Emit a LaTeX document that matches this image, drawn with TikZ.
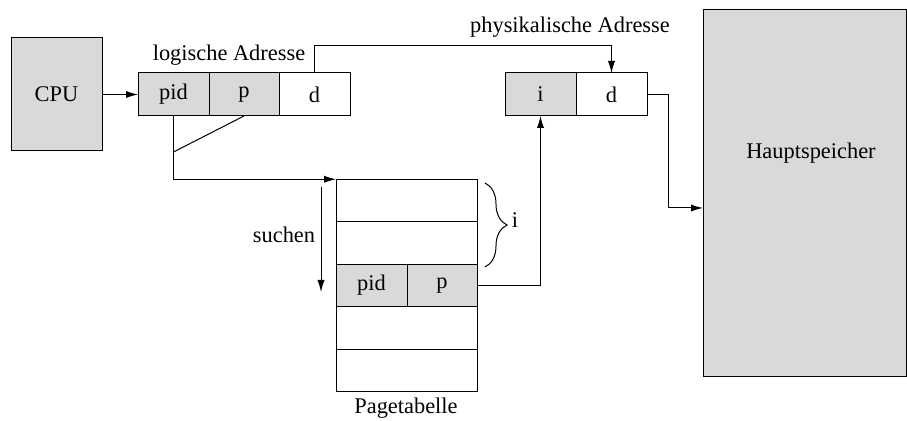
\documentclass[tikz,border=0pt]{standalone}
\usepackage{fontspec}
\setmainfont{Liberation Serif}
\usetikzlibrary{arrows.meta,decorations.pathreplacing}
\definecolor{boxgray}{gray}{0.85}
\begin{document}
\begin{tikzpicture}[x=0.5pt,y=-0.5pt,
  font=\fontsize{11.2}{13}\selectfont,
  every node/.style={inner sep=0pt,outer sep=0pt},
  cell/.style={draw,line width=0.5pt,minimum width=35.5pt,minimum height=21.5pt},
  graycell/.style={cell,fill=boxgray},
  tcell/.style={graycell,minimum height=21.25pt},
  row/.style={draw,line width=0.5pt,minimum width=70.5pt,minimum height=21.25pt},
  line/.style={line width=0.5pt},
  arr/.style={line width=0.5pt,-{Latex[length=6pt,width=3.6pt]}},
  lbl/.style={anchor=base}]
\useasboundingbox (0,0) rectangle (907,421);

% CPU and main memory
\node[draw,line width=0.5pt,fill=boxgray,minimum width=45.5pt,minimum height=56.5pt] (cpu) at (56.5,94.5) {CPU};
\node[draw,line width=0.5pt,fill=boxgray,minimum width=101.5pt,minimum height=183.5pt] (mem) at (804.5,193.5) {};
\node[lbl] (memtxt) at (811,159) {Hauptspeicher};

% logical address
\node[graycell] (lpid) at (173.5,94.5) {pid};
\node[graycell,minimum width=35pt] (lp) at (244,94.5) {p};
\node[cell] (ld) at (314.5,94.5) {d};
\node[lbl] (ltxt) at (229,61) {logische Adresse};

% physical address
\node[graycell] (pi) at (540.5,94.5) {i};
\node[cell] (pd) at (611.5,94.5) {d};
\node[lbl] (ptxt) at (570,33) {physikalische Adresse};

% page table
\node[row] (r1) at (406.5,200.5) {};
\node[row] (r2) at (406.5,243) {};
\node[tcell] (tpid) at (371.5,285.5) {pid};
\node[tcell,minimum width=35pt] (tp) at (442,285.5) {p};
\node[row] (r4) at (406.5,328) {};
\node[row] (r5) at (406.5,370.5) {};
\node[lbl] (ttxt) at (406,414) {Pagetabelle};

% connectors
\draw[arr] (cpu.east) -- (lpid.west);
\draw[arr] (ld.north) -- ++(0,-27) -| (pd.north);
\draw[arr] (lpid.south) |- (r1.north west);
\draw[line] (lp.south) -- ([yshift=-18pt]lpid.south);
\draw[arr] (tp.east) -| (pi.south);
\draw[arr] (pd.east) -- ++(21,0) |- ([yshift=-7.25pt]mem.west);

% search direction
\coordinate (s1) at (321,187);
\coordinate (s2) at (321,292);
\draw[arr] (s1) -- (s2);
\node[lbl] (stxt) at (284,243) {suchen};

% index brace
\coordinate (b1) at (485,183);
\coordinate (b2) at (485,267);
\draw[line,decorate,decoration={brace,amplitude=11pt}] (b1) -- (b2);
\node[lbl] (itxt) at (515,228) {i};
\end{tikzpicture}
\end{document}
